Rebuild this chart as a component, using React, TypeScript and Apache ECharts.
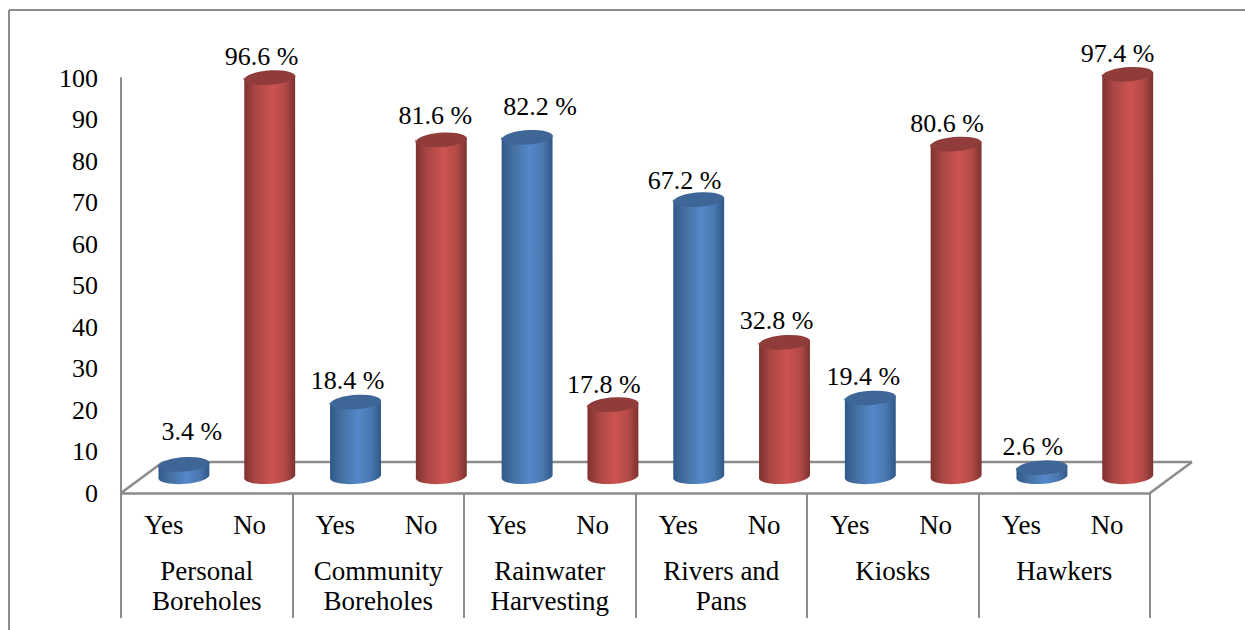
import React, { useEffect, useRef } from "react";
import * as echarts from "echarts";

const answers = ["Yes", "No", "Yes", "No", "Yes", "No", "Yes", "No", "Yes", "No", "Yes", "No"];
const sources = [
  "Personal\nBoreholes",
  "Community\nBoreholes",
  "Rainwater\nHarvesting",
  "Rivers and\nPans",
  "Kiosks",
  "Hawkers",
];
const percentages = [3.4, 96.6, 18.4, 81.6, 82.2, 17.8, 67.2, 32.8, 19.4, 80.6, 2.6, 97.4];
const yTicks = [0, 10, 20, 30, 40, 50, 60, 70, 80, 90, 100];

// Hand-placed data label nudges, as in the original figure (px from the bar's top centre).
const labelDx = [8, -8, -8, -6, 13, -9, -14, -8, -7, -9, -9, -10];
const labelDy = [-32, -21, -21, -24, -30, -20, -19, -21, -21, -20, -21, -20];

const FONT = "'Liberation Serif', 'Times New Roman', serif";
const FS_VALUE = 26;
const FS_CAT = 27;
const LINE = "#8c8c8c";
const RX = 25.5;
const RY = 7.5;
const ROT = -4;
const EDX = RX * Math.cos((ROT * Math.PI) / 180);
const EDY = -RX * Math.sin((ROT * Math.PI) / 180);

const PALETTE = {
  Yes: {
    stops: ["#2f5888", "#44709f", "#5588cb", "#4a78b0", "#2f5888"],
    top: "#3e6797",
  },
  No: {
    stops: ["#7c3230", "#a94644", "#cd5350", "#b34a47", "#7c3230"],
    top: "#8f3c3a",
  },
};

function renderCylinder(_params: any, api: any) {
  const i = api.value(0);
  const v = api.value(1);
  const [cx, yTop] = api.coord([i, v]);
  const yBase = api.coord([i, 0])[1] - 2.5;
  const pal = PALETTE[answers[i] as "Yes" | "No"];
  const lx = cx - EDX;
  const rx = cx + EDX;
  const body =
    `M ${lx} ${yTop + EDY} L ${lx} ${yBase + EDY} ` +
    `A ${RX} ${RY} ${ROT} 0 0 ${rx} ${yBase - EDY} L ${rx} ${yTop - EDY} Z`;
  const lid =
    `M ${lx} ${yTop + EDY} A ${RX} ${RY} ${ROT} 0 1 ${rx} ${yTop - EDY} ` +
    `A ${RX} ${RY} ${ROT} 0 1 ${lx} ${yTop + EDY} Z`;
  const offsets = [0, 0.22, 0.55, 0.8, 1];
  return {
    type: "group",
    children: [
      {
        type: "path",
        shape: { pathData: body },
        style: {
          fill: {
            type: "linear",
            x: 0,
            y: 0,
            x2: 1,
            y2: 0,
            colorStops: pal.stops.map((color, k) => ({ offset: offsets[k], color })),
          },
        },
      },
      { type: "path", shape: { pathData: lid }, style: { fill: pal.top } },
      {
        type: "text",
        style: {
          text: `${v} %`,
          x: cx + labelDx[i],
          y: yTop + labelDy[i],
          fill: "#000",
          font: `${FS_VALUE}px ${FONT}`,
          textAlign: "center",
          textVerticalAlign: "middle",
          align: "center",
          verticalAlign: "middle",
        },
      },
    ],
  };
}

export default function App() {
  const ref = useRef<HTMLDivElement>(null);
  useEffect(() => {
    const chart = echarts.init(ref.current!, null, { renderer: "svg" });
    const ln = (x1: number, y1: number, x2: number, y2: number, lineWidth = 2.5) => ({
      type: "line",
      z: 0,
      silent: true,
      shape: { x1, y1, x2, y2 },
      style: { stroke: LINE, lineWidth },
    });
    chart.setOption({
      animation: false,
      backgroundColor: "#fff",
      graphic: {
        elements: [
          ln(9, 10, 1245, 10, 2),
          ln(9, 10, 9, 630, 2),
          ln(163, 462, 1192, 462),
          ln(121, 493, 163, 462),
          ln(1150, 493, 1192, 462),
        ],
      },
      grid: [
        { left: 121, top: 78, width: 1029, height: 415 },
        { left: 141, top: 63, width: 1029.6, height: 415 },
      ],
      xAxis: [
        {
          type: "category",
          gridIndex: 0,
          data: answers,
          axisLine: { show: true, lineStyle: { color: LINE, width: 2.5 } },
          axisTick: { show: false },
          axisLabel: {
            interval: 0,
            margin: 18,
            color: "#000",
            fontFamily: FONT,
            fontSize: FS_CAT,
            hideOverlap: false,
          },
        },
        {
          type: "category",
          gridIndex: 0,
          position: "bottom",
          data: sources,
          axisLine: { show: false },
          axisTick: { show: true, length: 125, lineStyle: { color: LINE, width: 2 } },
          axisLabel: {
            interval: 0,
            margin: 63,
            color: "#000",
            fontFamily: FONT,
            fontSize: FS_CAT,
            lineHeight: 30,
            verticalAlign: "top",
            hideOverlap: false,
          },
        },
        { type: "category", gridIndex: 1, data: answers, show: false },
      ],
      yAxis: [
        {
          type: "value",
          gridIndex: 0,
          min: yTicks[0],
          max: yTicks[yTicks.length - 1],
          interval: 10,
          axisLine: { show: true, lineStyle: { color: LINE, width: 2 } },
          axisTick: { show: false },
          splitLine: { show: false },
          axisLabel: { margin: 23, color: "#000", fontFamily: FONT, fontSize: FS_VALUE },
        },
        { type: "value", gridIndex: 1, min: 0, max: 100, show: false },
      ],
      series: [
        {
          type: "custom",
          xAxisIndex: 2,
          yAxisIndex: 1,
          clip: false,
          renderItem: renderCylinder,
          encode: { x: 0, y: 1 },
          data: percentages.map((p, i) => [i, p]),
        },
      ],
    });
    return () => chart.dispose();
  }, []);
  return (
    <div
      ref={ref}
      style={{ position: "absolute", left: 0, top: 0, width: 1245, height: 630, background: "#fff" }}
    />
  );
}
